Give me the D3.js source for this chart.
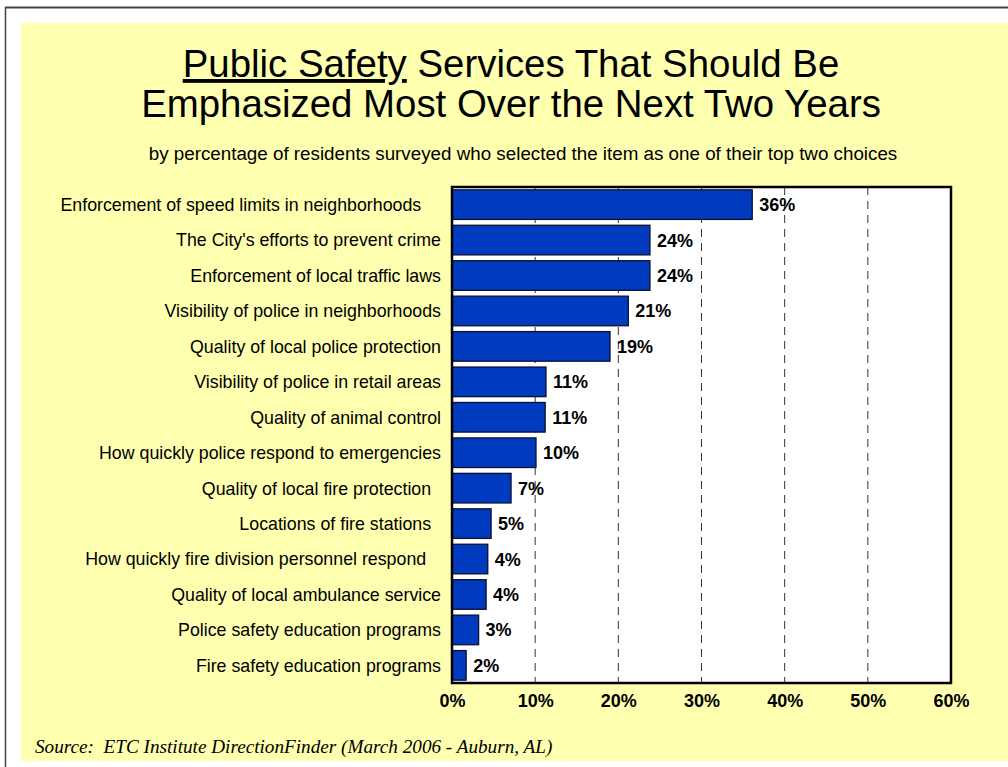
<!DOCTYPE html>
<html><head><meta charset="utf-8">
<script src="https://cdn.jsdelivr.net/npm/d3@7"></script>
<style>
html,body{margin:0;padding:0;background:#fff;}
text{white-space:pre;}
</style>
</head><body>
<svg id="chart" width="1008" height="767"></svg>
<script>
const categories = [
  "Enforcement of speed limits in neighborhoods    ",
  "The City's efforts to prevent crime",
  "Enforcement of local traffic laws",
  "Visibility of police in neighborhoods",
  "Quality of local police protection",
  "Visibility of police in retail areas",
  "Quality of animal control",
  "How quickly police respond to emergencies",
  "Quality of local fire protection  ",
  "Locations of fire stations  ",
  "How quickly fire division personnel respond   ",
  "Quality of local ambulance service",
  "Police safety education programs",
  "Fire safety education programs"
];
const values = [36.1, 23.8, 23.8, 21.2, 19.0, 11.3, 11.2, 10.1, 7.1, 4.7, 4.3, 4.1, 3.2, 1.7];
const valueLabels = ["36%","24%","24%","21%","19%","11%","11%","10%","7%","5%","4%","4%","3%","2%"];
const xTicks = [0, 10, 20, 30, 40, 50, 60];
const xTickLabels = ["0%","10%","20%","30%","40%","50%","60%"];
const titleLine1a = "Public Safety";
const titleLine1b = " Services That Should Be";
const titleLine2 = "Emphasized Most Over the Next Two Years";
const subtitle = "by percentage of residents surveyed who selected the item as one of their top two choices";
const source = "Source:  ETC Institute DirectionFinder (March 2006 - Auburn, AL)";

(function(){
const svg = d3.select("#chart");
svg.append("rect").attr("x",0).attr("y",0).attr("width",1008).attr("height",767).attr("fill","#fff");
svg.append("line").attr("x1",5).attr("x2",1008).attr("y1",7.5).attr("y2",7.5).attr("stroke","#444").attr("stroke-width",2);
svg.append("line").attr("x1",5.5).attr("x2",5.5).attr("y1",7).attr("y2",767).attr("stroke","#444").attr("stroke-width",1.5);
svg.append("rect").attr("x",21).attr("y",23).attr("width",987).attr("height",738).attr("fill","#FFFFB0");

const pL = 452, pR = 951, pT = 187, pB = 683;
const x = d3.scaleLinear().domain([0,60]).range([pL,pR]);
const y = d3.scaleBand().domain(categories).range([pT,pB]).paddingInner(0.165).paddingOuter(0.08);

svg.append("rect").attr("x",pL).attr("y",pT).attr("width",pR-pL).attr("height",pB-pT).attr("fill","#fff");

svg.append("g").selectAll("line").data(xTicks.slice(1,-1)).join("line")
  .attr("x1",d=>x(d)).attr("x2",d=>x(d)).attr("y1",pT).attr("y2",pB)
  .attr("stroke","#333").attr("stroke-width",1).attr("stroke-dasharray","8,6");

svg.append("g").selectAll("rect").data(values).join("rect")
  .attr("x",x(0)).attr("y",(d,i)=>y(categories[i]))
  .attr("width",d=>x(d)-x(0)).attr("height",y.bandwidth())
  .attr("fill","#003ABF").attr("stroke","#0a1030").attr("stroke-width",1.3);

svg.append("g").selectAll("text").data(values).join("text")
  .attr("x",d=>x(d)+7).attr("y",(d,i)=>y(categories[i])+y.bandwidth()/2)
  .attr("dy","0.36em")
  .attr("font-family","Liberation Sans, Arial, sans-serif").attr("font-weight","bold").attr("font-size",18)
  .attr("fill","#000").text((d,i)=>valueLabels[i]);

svg.append("rect").attr("x",pL).attr("y",pT).attr("width",pR-pL).attr("height",pB-pT)
  .attr("fill","none").attr("stroke","#000").attr("stroke-width",2.5);

svg.append("g").selectAll("text").data(categories).join("text")
  .attr("x",441).attr("y",d=>y(d)+y.bandwidth()/2).attr("dy","0.36em")
  .attr("text-anchor","end")
  .attr("font-family","Liberation Sans, Arial, sans-serif").attr("font-size",17.8).attr("fill","#000")
  .text(d=>d);

const xAxis = d3.axisBottom(x).tickValues(xTicks).tickFormat((d,i)=>xTickLabels[i]).tickSize(0).tickPadding(0);
const gx = svg.append("g").attr("transform",`translate(0,${pB})`).call(xAxis);
gx.select(".domain").remove();
gx.selectAll("text").attr("y",24).attr("dy",0)
  .attr("font-family","Liberation Sans, Arial, sans-serif").attr("font-weight","bold").attr("font-size",18).attr("fill","#000");

const t1 = svg.append("text").attr("x",511).attr("y",77).attr("text-anchor","middle")
  .attr("font-family","Liberation Sans, Arial, sans-serif").attr("font-size",38.4).attr("fill","#000");
t1.append("tspan").attr("text-decoration","underline").text(titleLine1a);
t1.append("tspan").text(titleLine1b);
svg.append("text").attr("x",511).attr("y",117).attr("text-anchor","middle")
  .attr("font-family","Liberation Sans, Arial, sans-serif").attr("font-size",38.4).attr("fill","#000")
  .text(titleLine2);
svg.append("text").attr("x",523).attr("y",160).attr("text-anchor","middle")
  .attr("font-family","Liberation Sans, Arial, sans-serif").attr("font-size",18.8).attr("fill","#000")
  .text(subtitle);
svg.append("text").attr("x",35).attr("y",753)
  .attr("font-family","Liberation Serif, Times New Roman, serif").attr("font-style","italic").attr("font-size",19.2).attr("fill","#000")
  .text(source);
})();
</script>
</body></html>
